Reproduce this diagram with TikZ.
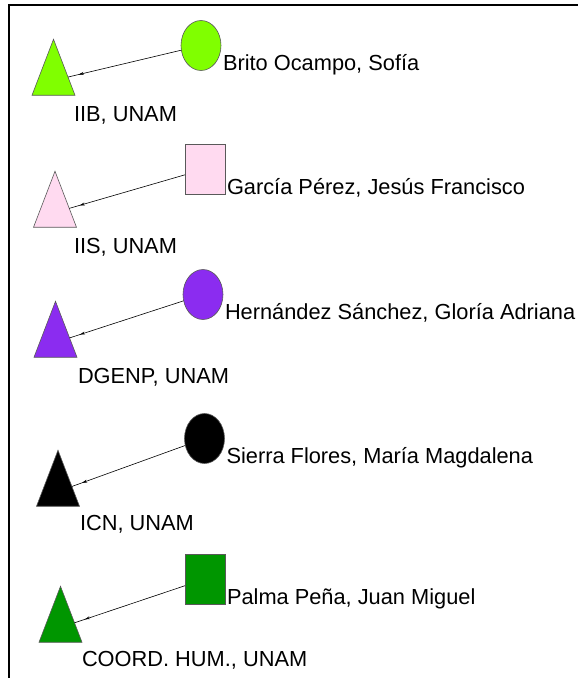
\documentclass[tikz,border=0pt]{standalone}
\usepackage{fontspec}
\setmainfont{Liberation Sans}
\usepackage{xcolor}
\usetikzlibrary{arrows.meta,shapes.geometric,decorations.markings}
\definecolor{lime}{HTML}{80FF00}
\definecolor{palepink}{HTML}{FFDAF0}
\definecolor{violet}{HTML}{8B2CF0}
\definecolor{darkgreen}{HTML}{009600}

\begin{document}
\begin{tikzpicture}[x=1pt, y=-1pt,
    every node/.style={inner sep=0pt, outer sep=0pt},
    person/.style={draw=black!65, line width=0.6pt, minimum width=40pt, minimum height=50pt},
    circ/.style={person, ellipse},
    sq/.style={person, rectangle},
    inst/.style={isosceles triangle, isosceles triangle stretches, shape border rotate=90,
        draw=black!65, line width=0.6pt, minimum width=43pt, minimum height=56pt},
    lbl/.style={anchor=base west, font=\fontsize{21.8}{24}\selectfont},
    link/.style={line width=0.6pt, postaction={decorate},
        decoration={markings, mark=at position -11pt with {\arrow{Stealth[length=5pt,width=3pt]}}}}]
    \useasboundingbox (0,0) rectangle (578,678);
    \draw[line width=2pt] (9,678) -- (9,5) -- (578,5);

    \node[circ, fill=lime] (p1) at (201,45.5) {};
    \node[inst, fill=lime] (u1) at (53.5,80.5) {};
    \node[lbl, xshift=2pt] (n1) at (p1.east |- p1.south) {Brito Ocampo, Sofía};
    \node[lbl] (i1) at (74,121) {IIB, UNAM};
    \draw[link] (p1) -- (u1);

    \node[sq, fill=palepink] (p2) at (205,169) {};
    \node[inst, fill=palepink] (u2) at (55,212.5) {};
    \node[lbl, xshift=2pt] (n2) at (p2.east |- p2.south) {García Pérez, Jesús Francisco};
    \node[lbl] (i2) at (74,253) {IIS, UNAM};
    \draw[link] (p2) -- (u2);

    \node[circ, fill=violet] (p3) at (203,294.5) {};
    \node[inst, fill=violet] (u3) at (55.5,342.5) {};
    \node[lbl, xshift=2pt] (n3) at (p3.east |- p3.south) {Hernández Sánchez, Gloría Adriana};
    \node[lbl] (i3) at (78,383) {DGENP, UNAM};
    \draw[link] (p3) -- (u3);

    \node[circ, fill=black] (p4) at (204.5,438.5) {};
    \node[inst, fill=black] (u4) at (58,491.5) {};
    \node[lbl, xshift=2pt] (n4) at (p4.east |- p4.south) {Sierra Flores, María Magdalena};
    \node[lbl] (i4) at (80,530) {ICN, UNAM};
    \draw[link] (p4) -- (u4);

    \node[sq, fill=darkgreen] (p5) at (205,579) {};
    \node[inst, fill=darkgreen] (u5) at (60.5,627.5) {};
    \node[lbl, xshift=2pt] (n5) at (p5.east |- p5.south) {Palma Peña, Juan Miguel};
    \node[lbl] (i5) at (82,666) {COORD. HUM., UNAM};
    \draw[link] (p5) -- (u5);
\end{tikzpicture}
\end{document}
